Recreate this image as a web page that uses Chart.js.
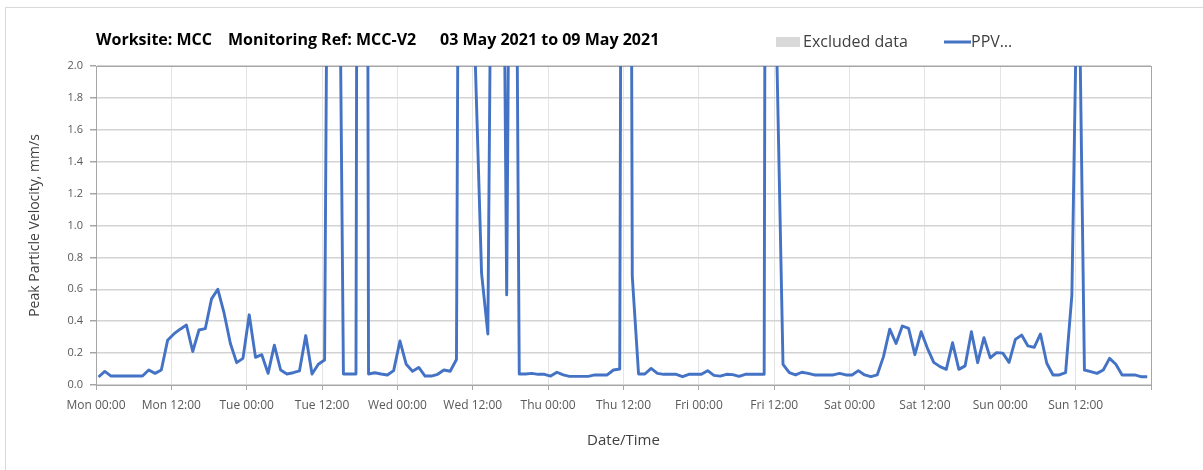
<!DOCTYPE html>
<html>
<head>
<meta charset="utf-8">
<script src="https://cdn.jsdelivr.net/npm/chart.js@4"></script>
<style>
  html, body { margin: 0; padding: 0; background: #fff; overflow: hidden; }
  #frame { position: absolute; left: 5px; top: 7px; width: 1220px; height: 480px; border: 1px solid #d9d9d9; box-sizing: border-box; }
  #wrap { position: absolute; left: 0; top: 0; width: 1203px; height: 470px; }
</style>
</head>
<body>
<div id="frame"></div>
<div id="wrap"><canvas id="chart" width="1203" height="470"></canvas></div>
<script>
// x axis labels, one every 12 hours from Mon 00:00
const dayLabels = ['Mon 00:00', 'Mon 12:00', 'Tue 00:00', 'Tue 12:00', 'Wed 00:00', 'Wed 12:00',
  'Thu 00:00', 'Thu 12:00', 'Fri 00:00', 'Fri 12:00', 'Sat 00:00', 'Sat 12:00', 'Sun 00:00', 'Sun 12:00'];

const titleParts = ['Worksite: MCC', 'Monitoring Ref: MCC-V2', '03 May 2021 to 09 May 2021'];

// hourly logger readings, hours counted from Mon 00:00
const firstReading = 0.4;
const readingStep = 1;

// peak particle velocity, mm/s (one value per reading)
const ppv = [
  0.05, 0.085, 0.056, 0.056, 0.056, 0.056, 0.056, 0.056, 0.094, 0.073,
  0.094, 0.28, 0.32, 0.35, 0.376, 0.21, 0.345, 0.353, 0.54, 0.60,
  0.45, 0.26, 0.14, 0.167, 0.44, 0.173, 0.19, 0.073, 0.25, 0.094,
  0.069, 0.077, 0.088, 0.31, 0.069, 0.13, 0.157, 6.5, 4.5, 0.069,
  0.069, 0.069, 19.4, 0.069, 0.077, 0.069, 0.063, 0.09, 0.276, 0.13,
  0.086, 0.11, 0.056, 0.056, 0.067, 0.094, 0.086, 0.16, 9.4, 8.0,
  2.02, 0.70, 0.32, 5.3, 5.4, 0.565, 6.3, 0.069, 0.069, 0.073,
  0.067, 0.067, 0.056, 0.08, 0.063, 0.054, 0.054, 0.054, 0.054, 0.063,
  0.063, 0.063, 0.094, 0.10, 14, 0.68, 0.069, 0.069, 0.104, 0.073,
  0.067, 0.067, 0.067, 0.052, 0.067, 0.067, 0.067, 0.09, 0.06, 0.056,
  0.067, 0.065, 0.054, 0.067, 0.067, 0.067, 0.067, 19, 2.1, 0.13,
  0.077, 0.063, 0.08, 0.073, 0.063, 0.063, 0.063, 0.063, 0.073, 0.063,
  0.063, 0.09, 0.063, 0.052, 0.063, 0.178, 0.35, 0.26, 0.37, 0.355,
  0.19, 0.334, 0.23, 0.142, 0.115, 0.098, 0.265, 0.098, 0.12, 0.334,
  0.14, 0.297, 0.17, 0.203, 0.20, 0.142, 0.286, 0.313, 0.245, 0.236,
  0.32, 0.136, 0.063, 0.063, 0.077, 0.564, 3.0, 0.094, 0.084, 0.073,
  0.094, 0.167, 0.13, 0.063, 0.063, 0.063, 0.052, 0.052
];

const points = ppv.map((v, i) => ({ x: firstReading + i * readingStep, y: v }));

const FONT = '"Open Sans", "DejaVu Sans", sans-serif';
const AXIS_GREY = '#a6a6a6';

// title on the left, legend on the right, both on one line above the plot
const headerPlugin = {
  id: 'header',
  afterDraw(chart) {
    const ctx = chart.ctx;
    ctx.save();
    ctx.textBaseline = 'alphabetic';
    ctx.fillStyle = '#000';
    ctx.font = 'bold 16px ' + FONT;
    const tx = [96, 228, 440];
    titleParts.forEach((t, i) => ctx.fillText(t, tx[i], 45));

    ctx.font = '16px ' + FONT;
    ctx.textBaseline = 'middle';
    const [excl, line] = chart.data.datasets;
    ctx.fillStyle = excl.backgroundColor;
    ctx.fillRect(776, 37, 24, 10);
    ctx.fillStyle = '#404040';
    ctx.fillText(excl.label, 803, 42);

    ctx.strokeStyle = line.borderColor;
    ctx.lineWidth = 3;
    ctx.beginPath();
    ctx.moveTo(944, 42);
    ctx.lineTo(971, 42);
    ctx.stroke();
    ctx.fillText(line.label, 971, 42);
    ctx.restore();
  }
};

// dark frame round the plot area
const framePlugin = {
  id: 'plotFrame',
  beforeDatasetsDraw(chart) {
    const { ctx, chartArea: a } = chart;
    ctx.save();
    ctx.strokeStyle = AXIS_GREY;
    ctx.lineWidth = 1;
    ctx.strokeRect(Math.round(a.left) + 0.5, Math.round(a.top) + 0.5,
      Math.round(a.right - a.left), Math.round(a.bottom - a.top));
    ctx.restore();
  }
};

new Chart(document.getElementById('chart'), {
  type: 'line',
  data: {
    datasets: [
      { type: 'bar', label: 'Excluded data', data: [], backgroundColor: '#d9d9d9' },
      { label: 'PPV\u2026', data: points, borderColor: '#4472c4', borderWidth: 2.9,
        pointRadius: 0, tension: 0, fill: false, borderJoinStyle: 'round' }
    ]
  },
  options: {
    responsive: false,
    animation: false,
    devicePixelRatio: 1,
    layout: { padding: { top: 66, right: 52, bottom: 10, left: 20 } },
    plugins: { legend: { display: false }, title: { display: false }, tooltip: { enabled: false } },
    scales: {
      x: {
        type: 'linear', min: 0, max: 168, offset: false,
        afterFit: s => { s.height = 75; },
        ticks: {
          stepSize: 12, autoSkip: false, maxRotation: 0, padding: 8,
          color: '#595959', font: { family: FONT, size: 12 },
          callback: v => dayLabels[v / 12] || ''
        },
        grid: { offset: false, color: '#e4e4e4', lineWidth: 1, tickLength: 5, tickColor: AXIS_GREY },
        border: { color: AXIS_GREY, width: 1 },
        title: { display: true, text: 'Date/Time', color: '#404040',
          font: { family: FONT, size: 15 }, padding: { top: 0, bottom: 10 } }
      },
      y: {
        min: 0, max: 2,
        afterFit: s => { s.width = 76; },
        ticks: {
          stepSize: 0.2, padding: 7, color: '#595959', font: { family: FONT, size: 11 },
          callback: v => v.toFixed(1)
        },
        grid: { color: '#d3d3d3', lineWidth: 1.5, tickLength: 6, tickColor: AXIS_GREY },
        border: { color: AXIS_GREY, width: 1 },
        title: { display: true, text: 'Peak Particle Velocity, mm/s', color: '#404040',
          font: { family: FONT, size: 14 }, padding: { top: 7, bottom: 0 } }
      }
    }
  },
  plugins: [framePlugin, headerPlugin]
});
</script>
</body>
</html>
